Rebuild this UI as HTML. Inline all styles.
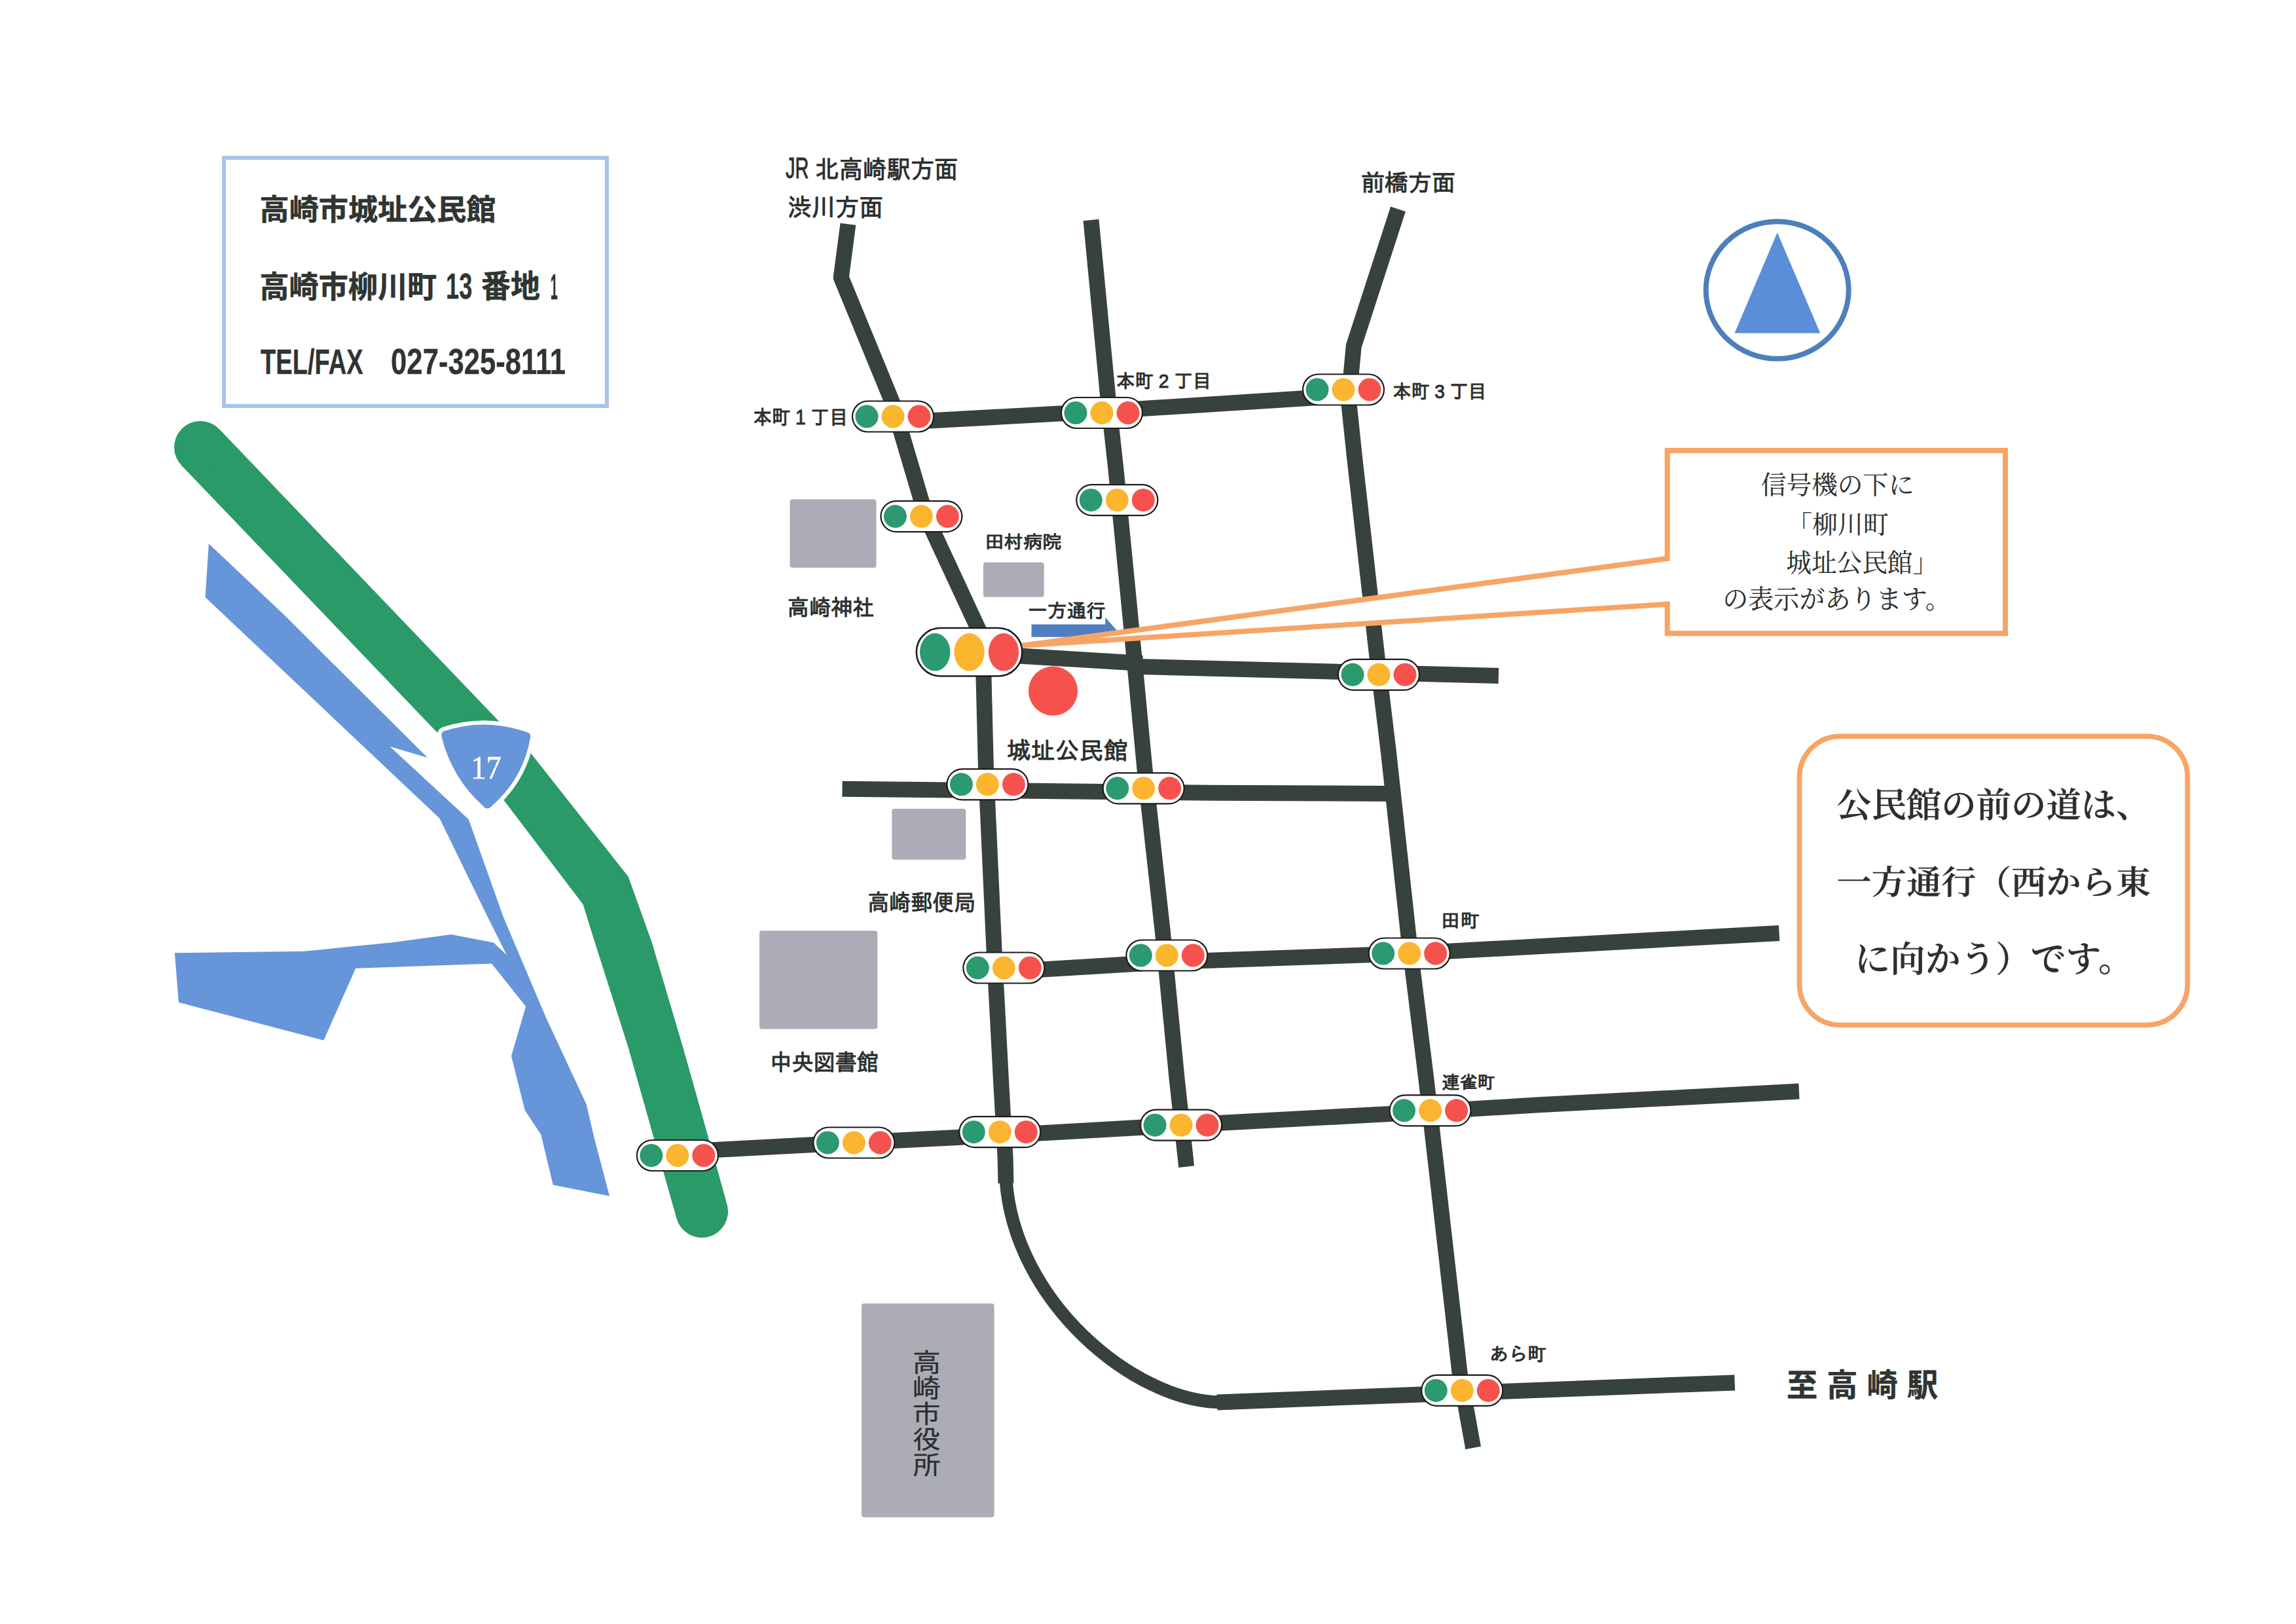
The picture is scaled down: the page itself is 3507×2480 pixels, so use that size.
<!DOCTYPE html><html lang="ja"><head><meta charset="utf-8"><title>高崎市城址公民館 案内図</title><style>html,body{margin:0;padding:0;background:#fff}svg{display:block}</style></head><body>
<svg width="3507" height="2480" viewBox="0 0 3507 2480">
<rect width="3507" height="2480" fill="#fff"/>
<rect x="342" y="241" width="585" height="379" fill="none" stroke="#a9c3e9" stroke-width="6"/>
<polygon points="318.9,830.2 433.0,938.0 653.0,1157.0 595.5,1140.0 715.8,1251.2 768.7,1400.0 834.0,1554.0 895.6,1686.3 907.9,1738.7 931.0,1826.4 844.8,1809.5 826.3,1732.5 801.7,1695.6 781.0,1612.4 803.2,1537.0 750.9,1471.4 543.2,1478.7 494.4,1588.7 272.9,1530.7 266.8,1455.2 463.8,1452.8 601.3,1439.0 689.0,1427.0 754.0,1439.4 774.0,1458.5 744.7,1400.0 671.5,1249.7 313.5,912.0" fill="#6695da"/>
<path d="M306,683 L736,1132" fill="none" stroke="#2a9a68" stroke-width="80" stroke-linecap="butt"/>
<circle cx="306" cy="683" r="40" fill="#2a9a68"/>
<path d="M806.2,1144.5 L812.4,1152.3 L959.7,1338.8 L996,1440 L1043.4,1600 L1071.6,1700 L1110.5,1839.1 A40,40 0 0 1 1033.5,1860.9 L988,1700 L959.8,1600 L908.9,1440 L890.5,1381 L771.1,1224.1 L765,1216.1 Z" fill="#2a9a68"/>
<path d="M678,1116.5 Q742,1095.7 806,1118.5 Q811.5,1120.5 810,1127 Q799.1,1188.7 752,1230 Q744.5,1239 737,1230 Q690.6,1187.8 675,1127 Q672.5,1119 678,1116.5 Z" fill="#fff" stroke="#fff" stroke-width="12.5" stroke-linejoin="round"/>
<path d="M678,1116.5 Q742,1095.7 806,1118.5 Q811.5,1120.5 810,1127 Q799.1,1188.7 752,1230 Q744.5,1239 737,1230 Q690.6,1187.8 675,1127 Q672.5,1119 678,1116.5 Z" fill="#6695da"/>
<rect x="1206.5" y="762.6" width="132.0" height="104.4" rx="4" fill="#acacb6"/>
<rect x="1501.9" y="858.8" width="92.8" height="52.9" rx="4" fill="#acacb6"/>
<rect x="1362.3" y="1235" width="113.0" height="77.8" rx="4" fill="#acacb6"/>
<rect x="1160" y="1421.2" width="180.3" height="150.3" rx="4" fill="#acacb6"/>
<rect x="1316" y="1990.5" width="202.6" height="326.5" rx="4" fill="#acacb6"/>
<path d="M1295.4,342.2 L1284.7,423.7 L1362.9,614.0 L1414.5,788.6 L1501.0,975.0 L1506.0,1176.5 L1518.7,1455.0 L1529.0,1650.0 L1535.6,1768.0 L1536.4,1807.0" fill="none" stroke="#38423c" stroke-width="24" stroke-linejoin="round" />
<path d="M1536.5,1800 C1547.8,1987.4 1732.9,2140.1 1864,2141.3" fill="none" stroke="#38423c" stroke-width="20"/>
<path d="M1666.5,336.0 L1692.4,607.0 L1704.4,716.0 L1726.7,944.0 L1748.7,1176.5 L1776.1,1425.0 L1797.5,1646.0 L1812.2,1781.6" fill="none" stroke="#38423c" stroke-width="24" stroke-linejoin="round" />
<path d="M2135.5,319.3 L2067.7,528.5 L2060.0,612.0 L2069.2,700.0 L2103.7,1005.4 L2121.1,1150.0 L2151.6,1431.0 L2178.7,1650.0 L2229.8,2097.8 L2250.2,2211.0" fill="none" stroke="#38423c" stroke-width="24" stroke-linejoin="round" />
<path d="M1364.0,645.5 L1683.0,628.0 L2052.0,604.5" fill="none" stroke="#38423c" stroke-width="24" stroke-linejoin="round" />
<path d="M1520.0,999.4 L1745.0,1013.0" fill="none" stroke="#38423c" stroke-width="24" stroke-linejoin="round" />
<path d="M1728.0,1017.7 L2289.0,1032.0" fill="none" stroke="#38423c" stroke-width="24" stroke-linejoin="round" />
<path d="M1286.5,1204.7 L1850.0,1210.8 L2127.0,1212.0" fill="none" stroke="#38423c" stroke-width="24" stroke-linejoin="round" />
<path d="M1533.0,1484.0 L1782.0,1469.0 L2152.0,1456.0 L2717.6,1425.0" fill="none" stroke="#38423c" stroke-width="24" stroke-linejoin="round" />
<path d="M1035.0,1759.0 L1243.0,1748.0 L1588.0,1730.5 L1865.6,1714.8 L2123.0,1701.0 L2350.0,1687.3 L2748.0,1666.6" fill="none" stroke="#38423c" stroke-width="24" stroke-linejoin="round" />
<path d="M1859.0,2141.4 L2649.7,2111.4" fill="none" stroke="#38423c" stroke-width="24" stroke-linejoin="round" />
<polygon points="1575.5,953.5 1688.2,953.5 1688.2,942.8 1706,962.7 1688.2,983.4 1688.2,972.8 1575.5,972.8" fill="#4f7fc0"/>
<path d="M2546.7,688 L3063,688 L3063,967.3 L2546.7,967.3 L2546.7,922.6 L1560,986 L2546.7,853 Z" fill="#fff" stroke="#f6a566" stroke-width="8" stroke-linejoin="miter"/>
<rect x="2748.6" y="1124.4" width="592.7" height="440.9" rx="62" fill="#fff" stroke="#f6a566" stroke-width="7.8"/>
<circle cx="1608.5" cy="1055.2" r="37.6" fill="#f5524e"/>
<g><rect x="1302.0" y="612.5" width="124" height="47" rx="23.5" fill="#fff" stroke="#1c1c1c" stroke-width="2.2"/><ellipse cx="1324.0" cy="636.0" rx="17.5" ry="17.5" fill="#2b9a6e"/><ellipse cx="1364.0" cy="636.0" rx="17.5" ry="17.5" fill="#fbb52e"/><ellipse cx="1404.0" cy="636.0" rx="17.5" ry="17.5" fill="#f5524e"/></g>
<g><rect x="1621.0" y="607.0" width="124" height="47" rx="23.5" fill="#fff" stroke="#1c1c1c" stroke-width="2.2"/><ellipse cx="1643.0" cy="630.5" rx="17.5" ry="17.5" fill="#2b9a6e"/><ellipse cx="1683.0" cy="630.5" rx="17.5" ry="17.5" fill="#fbb52e"/><ellipse cx="1723.0" cy="630.5" rx="17.5" ry="17.5" fill="#f5524e"/></g>
<g><rect x="1990.0" y="571.5" width="124" height="47" rx="23.5" fill="#fff" stroke="#1c1c1c" stroke-width="2.2"/><ellipse cx="2012.0" cy="595.0" rx="17.5" ry="17.5" fill="#2b9a6e"/><ellipse cx="2052.0" cy="595.0" rx="17.5" ry="17.5" fill="#fbb52e"/><ellipse cx="2092.0" cy="595.0" rx="17.5" ry="17.5" fill="#f5524e"/></g>
<g><rect x="1345.4" y="765.1" width="124" height="47" rx="23.5" fill="#fff" stroke="#1c1c1c" stroke-width="2.2"/><ellipse cx="1367.4" cy="788.6" rx="17.5" ry="17.5" fill="#2b9a6e"/><ellipse cx="1407.4" cy="788.6" rx="17.5" ry="17.5" fill="#fbb52e"/><ellipse cx="1447.4" cy="788.6" rx="17.5" ry="17.5" fill="#f5524e"/></g>
<g><rect x="1644.3" y="740.2" width="124" height="47" rx="23.5" fill="#fff" stroke="#1c1c1c" stroke-width="2.2"/><ellipse cx="1666.3" cy="763.7" rx="17.5" ry="17.5" fill="#2b9a6e"/><ellipse cx="1706.3" cy="763.7" rx="17.5" ry="17.5" fill="#fbb52e"/><ellipse cx="1746.3" cy="763.7" rx="17.5" ry="17.5" fill="#f5524e"/></g>
<g><rect x="2044.0" y="1006.8" width="124" height="47" rx="23.5" fill="#fff" stroke="#1c1c1c" stroke-width="2.2"/><ellipse cx="2066.0" cy="1030.3" rx="17.5" ry="17.5" fill="#2b9a6e"/><ellipse cx="2106.0" cy="1030.3" rx="17.5" ry="17.5" fill="#fbb52e"/><ellipse cx="2146.0" cy="1030.3" rx="17.5" ry="17.5" fill="#f5524e"/></g>
<g><rect x="1446.4" y="1174.3" width="124" height="47" rx="23.5" fill="#fff" stroke="#1c1c1c" stroke-width="2.2"/><ellipse cx="1468.4" cy="1197.8" rx="17.5" ry="17.5" fill="#2b9a6e"/><ellipse cx="1508.4" cy="1197.8" rx="17.5" ry="17.5" fill="#fbb52e"/><ellipse cx="1548.4" cy="1197.8" rx="17.5" ry="17.5" fill="#f5524e"/></g>
<g><rect x="1684.7" y="1180.3" width="124" height="47" rx="23.5" fill="#fff" stroke="#1c1c1c" stroke-width="2.2"/><ellipse cx="1706.7" cy="1203.8" rx="17.5" ry="17.5" fill="#2b9a6e"/><ellipse cx="1746.7" cy="1203.8" rx="17.5" ry="17.5" fill="#fbb52e"/><ellipse cx="1786.7" cy="1203.8" rx="17.5" ry="17.5" fill="#f5524e"/></g>
<g><rect x="1471.3" y="1454.5" width="124" height="47" rx="23.5" fill="#fff" stroke="#1c1c1c" stroke-width="2.2"/><ellipse cx="1493.3" cy="1478.0" rx="17.5" ry="17.5" fill="#2b9a6e"/><ellipse cx="1533.3" cy="1478.0" rx="17.5" ry="17.5" fill="#fbb52e"/><ellipse cx="1573.3" cy="1478.0" rx="17.5" ry="17.5" fill="#f5524e"/></g>
<g><rect x="1720.3" y="1435.5" width="124" height="47" rx="23.5" fill="#fff" stroke="#1c1c1c" stroke-width="2.2"/><ellipse cx="1742.3" cy="1459.0" rx="17.5" ry="17.5" fill="#2b9a6e"/><ellipse cx="1782.3" cy="1459.0" rx="17.5" ry="17.5" fill="#fbb52e"/><ellipse cx="1822.3" cy="1459.0" rx="17.5" ry="17.5" fill="#f5524e"/></g>
<g><rect x="2090.7" y="1432.5" width="124" height="47" rx="23.5" fill="#fff" stroke="#1c1c1c" stroke-width="2.2"/><ellipse cx="2112.7" cy="1456.0" rx="17.5" ry="17.5" fill="#2b9a6e"/><ellipse cx="2152.7" cy="1456.0" rx="17.5" ry="17.5" fill="#fbb52e"/><ellipse cx="2192.7" cy="1456.0" rx="17.5" ry="17.5" fill="#f5524e"/></g>
<g><rect x="972.8" y="1741.0" width="124" height="47" rx="23.5" fill="#fff" stroke="#1c1c1c" stroke-width="2.2"/><ellipse cx="994.8" cy="1764.5" rx="17.5" ry="17.5" fill="#2b9a6e"/><ellipse cx="1034.8" cy="1764.5" rx="17.5" ry="17.5" fill="#fbb52e"/><ellipse cx="1074.8" cy="1764.5" rx="17.5" ry="17.5" fill="#f5524e"/></g>
<g><rect x="1242.3" y="1721.5" width="124" height="47" rx="23.5" fill="#fff" stroke="#1c1c1c" stroke-width="2.2"/><ellipse cx="1264.3" cy="1745.0" rx="17.5" ry="17.5" fill="#2b9a6e"/><ellipse cx="1304.3" cy="1745.0" rx="17.5" ry="17.5" fill="#fbb52e"/><ellipse cx="1344.3" cy="1745.0" rx="17.5" ry="17.5" fill="#f5524e"/></g>
<g><rect x="1465.3" y="1705.2" width="124" height="47" rx="23.5" fill="#fff" stroke="#1c1c1c" stroke-width="2.2"/><ellipse cx="1487.3" cy="1728.7" rx="17.5" ry="17.5" fill="#2b9a6e"/><ellipse cx="1527.3" cy="1728.7" rx="17.5" ry="17.5" fill="#fbb52e"/><ellipse cx="1567.3" cy="1728.7" rx="17.5" ry="17.5" fill="#f5524e"/></g>
<g><rect x="1742.1" y="1694.7" width="124" height="47" rx="23.5" fill="#fff" stroke="#1c1c1c" stroke-width="2.2"/><ellipse cx="1764.1" cy="1718.2" rx="17.5" ry="17.5" fill="#2b9a6e"/><ellipse cx="1804.1" cy="1718.2" rx="17.5" ry="17.5" fill="#fbb52e"/><ellipse cx="1844.1" cy="1718.2" rx="17.5" ry="17.5" fill="#f5524e"/></g>
<g><rect x="2122.6" y="1672.3" width="124" height="47" rx="23.5" fill="#fff" stroke="#1c1c1c" stroke-width="2.2"/><ellipse cx="2144.6" cy="1695.8" rx="17.5" ry="17.5" fill="#2b9a6e"/><ellipse cx="2184.6" cy="1695.8" rx="17.5" ry="17.5" fill="#fbb52e"/><ellipse cx="2224.6" cy="1695.8" rx="17.5" ry="17.5" fill="#f5524e"/></g>
<g><rect x="2171.3" y="2099.9" width="124" height="47" rx="23.5" fill="#fff" stroke="#1c1c1c" stroke-width="2.2"/><ellipse cx="2193.3" cy="2123.4" rx="17.5" ry="17.5" fill="#2b9a6e"/><ellipse cx="2233.3" cy="2123.4" rx="17.5" ry="17.5" fill="#fbb52e"/><ellipse cx="2273.3" cy="2123.4" rx="17.5" ry="17.5" fill="#f5524e"/></g>
<g><rect x="1399.8" y="959.0" width="161.5" height="73.5" rx="36.75" fill="#fff" stroke="#1c1c1c" stroke-width="2.6"/><ellipse cx="1428.2" cy="995.8" rx="23.2" ry="28.8" fill="#2b9a6e"/><ellipse cx="1480.6" cy="995.8" rx="23.2" ry="28.8" fill="#fbb52e"/><ellipse cx="1533.0" cy="995.8" rx="23.2" ry="28.8" fill="#f5524e"/></g>
<ellipse cx="2714.7" cy="443" rx="109" ry="104.8" fill="none" stroke="#4d80bb" stroke-width="8"/>
<polygon points="2714.7,354.9 2780.3,508.7 2649.5,508.7" fill="#5b8ed8"/>
<text id="t1" x="396.6" y="336.4" font-size="44.8" textLength="360.9" lengthAdjust="spacingAndGlyphs" font-weight="700" fill="#2e3532" stroke="#2e3532" stroke-width="0.6" stroke-linejoin="round" style='font-family:"Liberation Sans", "Noto Sans CJK JP", sans-serif' xml:space="preserve">高崎市城址公民館</text>
<text id="t2" x="396.5" y="453.8" font-size="45.9" textLength="270.7" lengthAdjust="spacingAndGlyphs" font-weight="700" fill="#2e3532" stroke="#2e3532" stroke-width="0.6" stroke-linejoin="round" style='font-family:"Liberation Sans", "Noto Sans CJK JP", sans-serif' xml:space="preserve">高崎市柳川町</text>
<text id="t2b" x="681.1" y="456.0" font-size="55.1" textLength="40.2" lengthAdjust="spacingAndGlyphs" font-weight="700" fill="#2e3532" stroke="#2e3532" stroke-width="0.3" stroke-linejoin="round" style='font-family:"Liberation Sans", "Noto Sans CJK JP", sans-serif' xml:space="preserve">13</text>
<text id="t2c" x="735.0" y="453.7" font-size="47.4" textLength="90.0" lengthAdjust="spacingAndGlyphs" font-weight="700" fill="#2e3532" stroke="#2e3532" stroke-width="0.6" stroke-linejoin="round" style='font-family:"Liberation Sans", "Noto Sans CJK JP", sans-serif' xml:space="preserve">番地</text>
<text id="t2d" x="840.8" y="457.0" font-size="56.3" textLength="11.0" lengthAdjust="spacingAndGlyphs" font-weight="700" fill="#2e3532" stroke="#2e3532" stroke-width="0.3" stroke-linejoin="round" style='font-family:"Liberation Sans", "Noto Sans CJK JP", sans-serif' xml:space="preserve">1</text>
<text id="t3" x="398.1" y="571.2" font-size="54.1" textLength="156.6" lengthAdjust="spacingAndGlyphs" font-weight="700" fill="#2e3532" stroke="#2e3532" stroke-width="0.3" stroke-linejoin="round" style='font-family:"Liberation Sans", "Noto Sans CJK JP", sans-serif' xml:space="preserve">TEL/FAX</text>
<text id="t3b" x="597.1" y="570.5" font-size="56.1" textLength="267.0" lengthAdjust="spacingAndGlyphs" font-weight="700" fill="#2e3532" stroke="#2e3532" stroke-width="0.3" stroke-linejoin="round" style='font-family:"Liberation Sans", "Noto Sans CJK JP", sans-serif' xml:space="preserve">027-325-8111</text>
<text id="t4" x="1200.1" y="271.6" font-size="45.2" textLength="35.3" lengthAdjust="spacingAndGlyphs" font-weight="400" fill="#2b2f2d" stroke="#2b2f2d" stroke-width="1.0" stroke-linejoin="round" style='font-family:"Liberation Sans", "IPAGothic", "Noto Sans CJK JP", sans-serif' xml:space="preserve">JR</text>
<text id="t4b" x="1245.4" y="271.8" font-size="38.1" textLength="218.0" lengthAdjust="spacingAndGlyphs" font-weight="400" fill="#2b2f2d" stroke="#2b2f2d" stroke-width="1.0" stroke-linejoin="round" style='font-family:"Liberation Sans", "IPAGothic", "Noto Sans CJK JP", sans-serif' xml:space="preserve">北高崎駅方面</text>
<text id="t5" x="1203.2" y="330.0" font-size="37.9" textLength="145.7" lengthAdjust="spacingAndGlyphs" font-weight="400" fill="#2b2f2d" stroke="#2b2f2d" stroke-width="1.0" stroke-linejoin="round" style='font-family:"Liberation Sans", "IPAGothic", "Noto Sans CJK JP", sans-serif' xml:space="preserve">渋川方面</text>
<text id="t6" x="2078.9" y="291.9" font-size="35.9" textLength="144.2" lengthAdjust="spacingAndGlyphs" font-weight="400" fill="#2b2f2d" stroke="#2b2f2d" stroke-width="1.0" stroke-linejoin="round" style='font-family:"Liberation Sans", "IPAGothic", "Noto Sans CJK JP", sans-serif' xml:space="preserve">前橋方面</text>
<text id="t7" x="1150.8" y="647.6" font-size="30.7" textLength="144.2" lengthAdjust="spacingAndGlyphs" font-weight="400" fill="#2b2f2d" stroke="#2b2f2d" stroke-width="1.0" stroke-linejoin="round" style='font-family:"Liberation Sans", "IPAGothic", "Noto Sans CJK JP", sans-serif' xml:space="preserve">本町 1 丁目</text>
<text id="t8" x="1705.1" y="592.3" font-size="29.2" textLength="145.0" lengthAdjust="spacingAndGlyphs" font-weight="400" fill="#2b2f2d" stroke="#2b2f2d" stroke-width="1.0" stroke-linejoin="round" style='font-family:"Liberation Sans", "IPAGothic", "Noto Sans CJK JP", sans-serif' xml:space="preserve">本町 2 丁目</text>
<text id="t9" x="2127.5" y="608.3" font-size="29.4" textLength="143.0" lengthAdjust="spacingAndGlyphs" font-weight="400" fill="#2b2f2d" stroke="#2b2f2d" stroke-width="1.0" stroke-linejoin="round" style='font-family:"Liberation Sans", "IPAGothic", "Noto Sans CJK JP", sans-serif' xml:space="preserve">本町 3 丁目</text>
<text id="t10" x="1503.9" y="837.4" font-size="27.2" textLength="117.8" lengthAdjust="spacingAndGlyphs" font-weight="400" fill="#2b2f2d" stroke="#2b2f2d" stroke-width="1.0" stroke-linejoin="round" style='font-family:"Liberation Sans", "IPAGothic", "Noto Sans CJK JP", sans-serif' xml:space="preserve">田村病院</text>
<text id="t11" x="1202.7" y="939.6" font-size="34.0" textLength="132.9" lengthAdjust="spacingAndGlyphs" font-weight="400" fill="#2b2f2d" stroke="#2b2f2d" stroke-width="1.0" stroke-linejoin="round" style='font-family:"Liberation Sans", "IPAGothic", "Noto Sans CJK JP", sans-serif' xml:space="preserve">高崎神社</text>
<text id="t12" x="1570.1" y="943.0" font-size="29.4" textLength="119.0" lengthAdjust="spacingAndGlyphs" font-weight="400" fill="#2b2f2d" stroke="#2b2f2d" stroke-width="1.0" stroke-linejoin="round" style='font-family:"Liberation Sans", "IPAGothic", "Noto Sans CJK JP", sans-serif' xml:space="preserve">一方通行</text>
<text id="t13" x="1537.7" y="1159.4" font-size="36.4" textLength="184.8" lengthAdjust="spacingAndGlyphs" font-weight="400" fill="#2b2f2d" stroke="#2b2f2d" stroke-width="1.0" stroke-linejoin="round" style='font-family:"Liberation Sans", "IPAGothic", "Noto Sans CJK JP", sans-serif' xml:space="preserve">城址公民館</text>
<text id="t14" x="1324.9" y="1390.9" font-size="35.3" textLength="165.0" lengthAdjust="spacingAndGlyphs" font-weight="400" fill="#2b2f2d" stroke="#2b2f2d" stroke-width="1.0" stroke-linejoin="round" style='font-family:"Liberation Sans", "IPAGothic", "Noto Sans CJK JP", sans-serif' xml:space="preserve">高崎郵便局</text>
<text id="t15" x="1176.3" y="1635.3" font-size="35.3" textLength="165.4" lengthAdjust="spacingAndGlyphs" font-weight="400" fill="#2b2f2d" stroke="#2b2f2d" stroke-width="1.0" stroke-linejoin="round" style='font-family:"Liberation Sans", "IPAGothic", "Noto Sans CJK JP", sans-serif' xml:space="preserve">中央図書館</text>
<text id="t16" x="2201.1" y="1415.7" font-size="28.7" textLength="58.8" lengthAdjust="spacingAndGlyphs" font-weight="400" fill="#2b2f2d" stroke="#2b2f2d" stroke-width="1.0" stroke-linejoin="round" style='font-family:"Liberation Sans", "IPAGothic", "Noto Sans CJK JP", sans-serif' xml:space="preserve">田町</text>
<text id="t17" x="2202.2" y="1662.4" font-size="26.4" textLength="81.9" lengthAdjust="spacingAndGlyphs" font-weight="400" fill="#2b2f2d" stroke="#2b2f2d" stroke-width="1.0" stroke-linejoin="round" style='font-family:"Liberation Sans", "IPAGothic", "Noto Sans CJK JP", sans-serif' xml:space="preserve">連雀町</text>
<text id="t18" x="2275.3" y="2078.4" font-size="28.4" textLength="86.6" lengthAdjust="spacingAndGlyphs" font-weight="400" fill="#2b2f2d" stroke="#2b2f2d" stroke-width="1.0" stroke-linejoin="round" style='font-family:"Liberation Sans", "IPAGothic", "Noto Sans CJK JP", sans-serif' xml:space="preserve">あら町</text>
<text id="t19" x="2729.0" y="2132.0" font-size="47.2" textLength="231.1" lengthAdjust="spacing" font-weight="700" fill="#2e3532" stroke="#2e3532" stroke-width="0.5" stroke-linejoin="round" style='font-family:"Liberation Sans", "Noto Sans CJK JP", sans-serif' xml:space="preserve">至高崎駅</text>
<text id="c1" x="2689.4" y="754.0" font-size="38.6" textLength="234.3" lengthAdjust="spacingAndGlyphs" font-weight="400" fill="#2b2f2d" stroke="#2b2f2d" stroke-width="0.15" stroke-linejoin="round" style='font-family:"Liberation Serif", "Noto Serif CJK SC", serif' xml:space="preserve">信号機の下に</text>
<text id="c2" x="2729.1" y="813.8" font-size="37.7" textLength="155.6" lengthAdjust="spacingAndGlyphs" font-weight="400" fill="#2b2f2d" stroke="#2b2f2d" stroke-width="0.15" stroke-linejoin="round" style='font-family:"Liberation Serif", "Noto Serif CJK SC", serif' xml:space="preserve">「柳川町</text>
<text id="c3" x="2728.3" y="872.9" font-size="38.2" textLength="231.8" lengthAdjust="spacingAndGlyphs" font-weight="400" fill="#2b2f2d" stroke="#2b2f2d" stroke-width="0.15" stroke-linejoin="round" style='font-family:"Liberation Serif", "Noto Serif CJK SC", serif' xml:space="preserve">城址公民館」</text>
<text id="c4" x="2631.2" y="929.0" font-size="40.3" textLength="348.6" lengthAdjust="spacingAndGlyphs" font-weight="400" fill="#2b2f2d" stroke="#2b2f2d" stroke-width="0.15" stroke-linejoin="round" style='font-family:"Liberation Serif", "Noto Serif CJK SC", serif' xml:space="preserve">の表示があります。</text>
<text id="r1" x="2805.2" y="1247.8" font-size="51.9" textLength="480.3" lengthAdjust="spacingAndGlyphs" font-weight="600" fill="#2b2f2d" stroke="#2b2f2d" stroke-width="0.3" stroke-linejoin="round" style='font-family:"Liberation Serif", "Noto Serif CJK SC", serif' xml:space="preserve">公民館の前の道は、</text>
<text id="r2" x="2805.4" y="1365.0" font-size="50.5" textLength="479.8" lengthAdjust="spacingAndGlyphs" font-weight="600" fill="#2b2f2d" stroke="#2b2f2d" stroke-width="0.3" stroke-linejoin="round" style='font-family:"Liberation Serif", "Noto Serif CJK SC", serif' xml:space="preserve">一方通行（西から東</text>
<text id="r3" x="2833.2" y="1484.4" font-size="54.0" textLength="425.6" lengthAdjust="spacingAndGlyphs" font-weight="600" fill="#2b2f2d" stroke="#2b2f2d" stroke-width="0.3" stroke-linejoin="round" style='font-family:"Liberation Serif", "Noto Serif CJK SC", serif' xml:space="preserve">に向かう）です。</text>
<text id="s17" x="719.4" y="1189.3" font-size="50.0" textLength="46.2" lengthAdjust="spacingAndGlyphs" font-weight="400" fill="#ffffff" stroke="#ffffff" stroke-width="0.7" stroke-linejoin="round" style='font-family:"Liberation Serif", "Noto Serif CJK SC", serif' xml:space="preserve">17</text>
<text id="v1" transform="translate(1415.6,0) scale(1.1,1) translate(-1415.6,0)" font-size="40.0" text-anchor="middle" fill="#2b2f2d" stroke="#2b2f2d" stroke-width="0.3" style='font-family:"Liberation Sans", "IPAGothic", "Noto Sans CJK JP", sans-serif'><tspan x="1415.6" y="2095.0">高</tspan><tspan x="1415.6" y="2133.9">崎</tspan><tspan x="1415.6" y="2172.8">市</tspan><tspan x="1415.6" y="2211.7">役</tspan><tspan x="1415.6" y="2250.6">所</tspan></text>
</svg></body></html>
